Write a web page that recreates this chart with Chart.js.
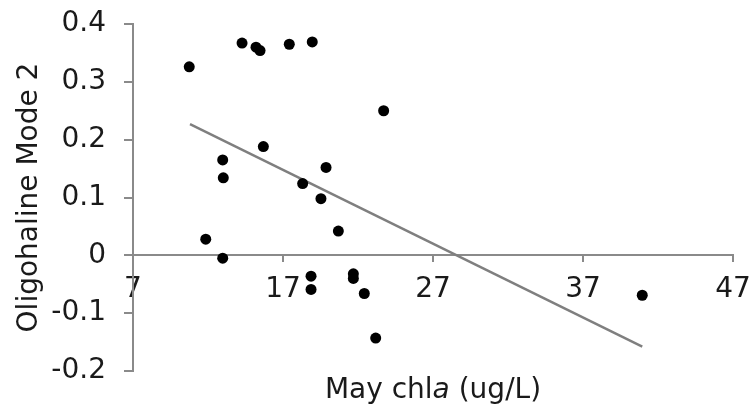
<!DOCTYPE html>
<html>
<head>
<meta charset="utf-8">
<script src="https://cdn.jsdelivr.net/npm/chart.js@4"></script>
<style>
  html, body { margin: 0; padding: 0; background: #fff; }
  #wrap { width: 754px; height: 412px; position: relative; }
</style>
</head>
<body>
<div id="wrap"><canvas id="chart" width="754" height="412"></canvas></div>
<script>
// May chla (x) vs Oligohaline Mode 2 (y)
const chlaValues = [10.75, 14.27, 15.2, 15.47, 17.42, 18.95, 23.71, 15.69, 12.98, 13.02, 19.87, 18.31,
  19.53, 20.69, 11.85, 12.98, 18.87, 18.87, 21.69, 21.69, 22.42, 23.18, 40.95];
const modeValues = [0.326, 0.367, 0.360, 0.354, 0.365, 0.369, 0.250, 0.188, 0.165, 0.134, 0.152, 0.124,
  0.098, 0.042, 0.028, -0.005, -0.036, -0.059, -0.032, -0.040, -0.066, -0.143, -0.069];

// linear trend line end points
const trendX = [10.8, 40.95];
const trendY = [0.227, -0.158];

const xTicks = [7, 17, 27, 37, 47];
const yTicks = [-0.2, -0.1, 0, 0.1, 0.2, 0.3, 0.4];

const axisGray = '#8a8a8a';
const textColor = '#1a1a1a';
const fontFamily = '"DejaVu Sans", "Liberation Sans", Arial, sans-serif';

// x title with italic "a", drawn under the plot
const xTitlePlugin = {
  id: 'xTitle',
  afterDraw(chart) {
    const ctx = chart.ctx;
    const parts = [
      { text: 'May chl', font: '28px ' + fontFamily },
      { text: 'a', font: 'italic 28px ' + fontFamily },
      { text: ' (ug/L)', font: '28px ' + fontFamily }
    ];
    let total = 0;
    parts.forEach(p => { ctx.font = p.font; p.w = ctx.measureText(p.text).width; total += p.w; });
    const area = chart.chartArea;
    let x = (area.left + area.right) / 2 - total / 2;
    ctx.save();
    ctx.fillStyle = textColor;
    ctx.textBaseline = 'alphabetic';
    parts.forEach(p => {
      ctx.font = p.font;
      ctx.fillText(p.text, x, 398);
      x += p.w;
    });
    ctx.restore();
  }
};

// keep tick labels from pushing the plot area around
function noLabelPadding(scale) {
  scale.paddingTop = 0;
  scale.paddingBottom = 0;
  scale.paddingLeft = 0;
  scale.paddingRight = 0;
}

new Chart(document.getElementById('chart').getContext('2d'), {
  type: 'scatter',
  data: {
    datasets: [
      {
        label: 'Lakes',
        data: chlaValues.map((x, i) => ({ x, y: modeValues[i] })),
        backgroundColor: '#000',
        borderWidth: 0,
        pointRadius: 5.5,
        pointHoverRadius: 5.5,
        order: 1
      },
      {
        label: 'Trend',
        type: 'line',
        data: trendX.map((x, i) => ({ x, y: trendY[i] })),
        borderColor: '#7f7f7f',
        borderWidth: 2.5,
        pointRadius: 0,
        fill: false,
        order: 2
      }
    ]
  },
  options: {
    responsive: false,
    animation: false,
    layout: { padding: { left: 0, right: 21, top: 24, bottom: 41 } },
    plugins: {
      legend: { display: false },
      tooltip: { enabled: false }
    },
    scales: {
      x: {
        type: 'linear',
        position: { y: 0 },
        min: 7,
        max: 47,
        afterBuildTicks: scale => { scale.ticks = xTicks.map(v => ({ value: v })); },
        afterFit: noLabelPadding,
        border: { display: true, color: axisGray, width: 2 },
        grid: { drawOnChartArea: false, drawTicks: true, tickLength: 6, color: axisGray, lineWidth: 2 },
        ticks: {
          color: textColor,
          font: { family: fontFamily, size: 28 },
          padding: 12,
          maxRotation: 0,
          autoSkip: false
        }
      },
      y: {
        type: 'linear',
        position: 'left',
        min: -0.2,
        max: 0.4,
        afterBuildTicks: scale => { scale.ticks = yTicks.map(v => ({ value: v })); },
        afterFit: scale => { noLabelPadding(scale); scale.width = 133; },
        border: { display: true, color: axisGray, width: 2 },
        grid: { drawOnChartArea: false, drawTicks: true, tickLength: 9, color: axisGray, lineWidth: 2 },
        ticks: {
          color: textColor,
          font: { family: fontFamily, size: 28 },
          padding: 18,
          callback: v => Math.abs(v) < 1e-9 ? '0' : v.toFixed(1)
        },
        title: {
          display: true,
          text: 'Oligohaline Mode 2',
          color: textColor,
          font: { family: fontFamily, size: 28 },
          padding: { top: 13, bottom: 0 }
        }
      }
    }
  },
  plugins: [xTitlePlugin]
});
</script>
</body>
</html>
